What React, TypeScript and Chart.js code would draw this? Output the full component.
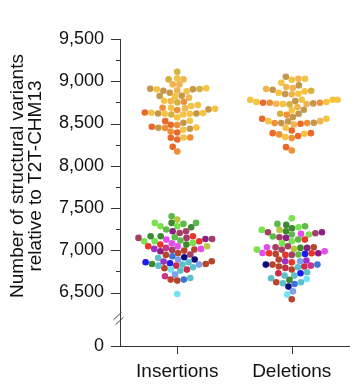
import React, { useEffect, useRef } from "react";
import { Chart, registerables } from "chart.js";

Chart.register(...registerables);

// ---------- data ----------
const categories = ["Insertions", "Deletions"];
const yTitleLines = ["Number of structural variants", "relative to T2T-CHM13"];
const yMajorTicks = [6500, 7000, 7500, 8000, 8500, 9000, 9500];
const yMinorTicks = [6750, 7250, 7750, 8250, 8750, 9250];
const brokenAxisZero = 5867; // axis position at which "0" is shown (broken axis)
const yAxisMax = 9500;

const insertionsHigh = [
  9113, 9022, 9022, 9034, 8963, 8963, 8916, 8908, 8904, 8888, 8880, 8864, 8892, 8904, 8912,
  8829, 8805, 8825, 8821, 8765, 8750, 8758, 8769, 8718, 8686, 8679, 8667, 8706, 8675, 8686,
  8659, 8623, 8615, 8615, 8607, 8607, 8631, 8619, 8619, 8627, 8572, 8532, 8509, 8528, 8481,
  8449, 8438, 8426, 8394, 8453, 8406, 8446, 8461, 8485, 8335, 8331, 8311, 8335, 8224, 8169,
];
const insertionsHighColors = [
  "AD", "AL", "AD", "AG", "AL", "AL", "AG", "AD", "AO", "AO", "AG", "AO", "AL", "AG", "AO",
  "AO", "AL", "AO", "AG", "AL", "AD", "AE", "AG", "AG", "AG", "AL", "AO", "AG", "AG", "AE",
  "AE", "AG", "AG", "AG", "AD", "AG", "AF", "AO", "AO", "AG", "AG", "AG", "AO", "AF", "AE",
  "AO", "AO", "AG", "AF", "AG", "AE", "AE", "AF", "AF", "AG", "AF", "AF", "AE", "AF", "AE",
];
const insertionsLow = [
  7403, 7363, 7324, 7324, 7312, 7324, 7273, 7284, 7284, 7245, 7225, 7205, 7225, 7166, 7146,
  7115, 7067, 7126, 7134, 7107, 7134, 7154, 7166, 7087, 7107, 7107, 7146, 7166, 7047, 7028,
  7008, 7083, 6988, 7004, 7047, 6996, 7016, 7016, 7047, 7067, 6968, 6917, 6909, 6929, 6890,
  6949, 6890, 6945, 6870, 6858, 6846, 6818, 6830, 6830, 6838, 6838, 6818, 6858, 6866, 6771,
  6771, 6799, 6759, 6787, 6712, 6692, 6672, 6653, 6641, 6653, 6482,
];
const insertionsLowColors = [
  "G", "YG", "DG", "G", "G", "LG", "DG", "LG", "LG", "G", "PU", "MV", "MV", "RD", "MV",
  "G", "DG", "MG", "PU", "RD", "MV", "G", "DG", "LG", "LG", "LG", "MV", "DG", "MG", "PK",
  "BR", "MG", "PU", "MV", "RD", "BR", "VI", "MG", "YG", "RD", "BR", "NV", "TL", "MB", "PW",
  "MV", "NV", "BR", "BR", "TL", "BL", "CR", "TL", "PW", "DG", "BR", "TL", "BL", "VI", "LC",
  "CR", "TL", "TL", "BR", "PW", "PK", "TL", "BR", "BR", "MB", "LC",
];
const deletionsHigh = [
  9053, 9030, 9018, 9030, 8951, 8982, 8919, 8931, 8899, 8864, 8852, 8845, 8848, 8880, 8887,
  8908, 8781, 8781, 8754, 8745, 8738, 8730, 8730, 8754, 8694, 8726, 8733, 8745, 8745, 8765,
  8781, 8781, 8662, 8615, 8576, 8603, 8615, 8655, 8556, 8528, 8508, 8505, 8497, 8489, 8525,
  8505, 8505, 8528, 8556, 8418, 8449, 8386, 8371, 8339, 8327, 8351, 8378, 8386, 8220, 8181,
];
const deletionsHighColors = [
  "AO", "AL", "AG", "AG", "AO", "AG", "AL", "AL", "AO", "AG", "AG", "AL", "AO", "AG", "AD",
  "AL", "AG", "AG", "AG", "AE", "AO", "AG", "AL", "AG", "AL", "AD", "AL", "AE", "AF", "AO",
  "AG", "AG", "AO", "AO", "AO", "AE", "AD", "AG", "AF", "AG", "AO", "AO", "AF", "AL", "AO",
  "AE", "AE", "AL", "AG", "AF", "AG", "AF", "AE", "AG", "AE", "AF", "AG", "AF", "AF", "AE",
];
const deletionsLow = [
  7379, 7273, 7284, 7261, 7300, 7312, 7194, 7186, 7213, 7201, 7186, 7241, 7213, 7225, 7241,
  7126, 7126, 7107, 7154, 7146, 7162, 7008, 7036, 7028, 7016, 7008, 7028, 7047, 7083, 7036,
  7036, 6988, 6965, 6957, 6945, 6949, 6945, 6968, 6965, 6957, 6965, 6870, 6830, 6818, 6807,
  6870, 6890, 6858, 6830, 6830, 6878, 6791, 6771, 6799, 6807, 6739, 6728, 6700, 6700, 6728,
  6668, 6660, 6621, 6621, 6649, 6609, 6570, 6601, 6514, 6475, 6420,
];
const deletionsLowColors = [
  "LG", "LG", "G", "DG", "DG", "G", "MG", "G", "MV", "MV", "LG", "YG", "PU", "DG", "LG",
  "G", "RD", "LG", "MV", "PU", "G", "MV", "MV", "DG", "YG", "LG", "PU", "MV", "LG", "BR",
  "MG", "MG", "RD", "BL", "MV", "G", "RD", "MG", "RD", "BR", "PU", "VI", "BR", "PK", "CR",
  "PW", "BR", "RD", "MB", "NV", "VI", "CR", "BR", "TL", "BR", "TL", "BL", "TL", "TL", "CR",
  "TL", "LC", "TL", "BR", "DG", "TL", "NV", "MB", "PW", "LC", "BR",
];

// ---------- styles ----------
const PALETTE: Record<string, string> = {
  AG: "#F5C342", AL: "#F2B450", AO: "#C4984A", AD: "#D6B23C", AE: "#EF9038", AF: "#E9692B",
  DG: "#3E8A2F", G: "#5DB94B", LG: "#78E14E", YG: "#B8C63C", PU: "#8A1F80", MV: "#A53E64",
  RD: "#E8362B", BR: "#B8442B", MG: "#E24DEB", PK: "#CA348B", VI: "#9B31C6", NV: "#0D0D7E",
  BL: "#1C1CF0", MB: "#3C75D5", PW: "#7F9EEC", TL: "#5CC0CC", LC: "#70E3F7", CR: "#CB2D46",
};
const FONT = "'Liberation Sans', Arial, Helvetica, sans-serif";
const AXIS_COLOR = "#333333";
const DOT_R = 3.3;
const SWARM_R = 3.17;
const SWARM_HALF_WIDTH = 0.4;

// seaborn-like beeswarm, computed in pixel space
function swarm(py: number[], r: number, cx: number, halfW: number): number[] {
  const n = py.length;
  const order = py.map((_, i) => i).sort((a, b) => py[b] - py[a]);
  const placed: { x: number; y: number }[] = [];
  const xs: number[] = new Array(n).fill(cx);
  for (let o = 0; o < order.length; o++) {
    const i = order[o];
    const yi = -py[i];
    const neighbors: { x: number; y: number }[] = [];
    for (let k = placed.length - 1; k >= 0; k--) {
      if (yi - placed[k].y < 2 * r) neighbors.push(placed[k]);
      else break;
    }
    const cands: number[] = [cx];
    let leftFirst = true;
    for (const nb of neighbors) {
      const dy = yi - nb.y;
      const dx = Math.sqrt(Math.max(4 * r * r - dy * dy, 0)) * 1.05;
      const cl = nb.x - dx;
      const cr = nb.x + dx;
      if (leftFirst) cands.push(cl, cr);
      else cands.push(cr, cl);
      leftFirst = !leftFirst;
    }
    const sorted = cands
      .map((x, idx) => ({ x, idx }))
      .sort((a, b) => Math.abs(a.x - cx) - Math.abs(b.x - cx) || a.idx - b.idx);
    let chosen = sorted[0].x;
    for (const c of sorted) {
      let ok = true;
      for (const nb of neighbors) {
        const ddx = nb.x - c.x;
        const ddy = nb.y - yi;
        if (ddx * ddx + ddy * ddy < 4 * r * r - 1e-9) {
          ok = false;
          break;
        }
      }
      if (ok) {
        chosen = c.x;
        break;
      }
    }
    placed.push({ x: chosen, y: yi });
    xs[i] = chosen;
  }
  return xs.map((x) => Math.min(cx + halfW, Math.max(cx - halfW, x)));
}

const decorPlugin = {
  id: "decor",
  afterDraw(chart: any) {
    const { ctx, scales } = chart;
    const y = scales.y;
    const x = scales.x;
    const left = chart.chartArea.left;
    const bottom = chart.chartArea.bottom;
    ctx.save();
    ctx.strokeStyle = AXIS_COLOR;
    ctx.lineWidth = 1;
    ctx.beginPath();
    [brokenAxisZero, ...yMajorTicks].forEach((v) => {
      const p = Math.round(y.getPixelForValue(v)) + 0.5;
      ctx.moveTo(left - 9, p);
      ctx.lineTo(left + 0.5, p);
    });
    yMinorTicks.forEach((v) => {
      const p = Math.round(y.getPixelForValue(v)) + 0.5;
      ctx.moveTo(left - 4, p);
      ctx.lineTo(left + 0.5, p);
    });
    categories.forEach((_, i) => {
      const p = Math.round(x.getPixelForValue(i + 1)) + 0.5;
      ctx.moveTo(p, bottom);
      ctx.lineTo(p, bottom + 8);
    });
    ctx.stroke();

    // axis break marks
    const breakY = (y.getPixelForValue(6500) + y.getPixelForValue(brokenAxisZero)) / 2 - 1;
    ctx.beginPath();
    ctx.strokeStyle = "#444";
    ctx.moveTo(left - 6.5, breakY + 1.5);
    ctx.lineTo(left + 1.5, breakY - 6);
    ctx.moveTo(left - 4.5, breakY + 6.5);
    ctx.lineTo(left + 3.5, breakY - 1);
    ctx.stroke();

    // y title
    ctx.fillStyle = "#111";
    ctx.font = `19px ${FONT}`;
    ctx.textAlign = "center";
    ctx.textBaseline = "middle";
    yTitleLines.forEach((line, i) => {
      ctx.save();
      ctx.translate(18 + i * 18, 176);
      ctx.rotate(-Math.PI / 2);
      ctx.fillText(line, 0, 0);
      ctx.restore();
    });
    ctx.restore();
  },
};

export default function App() {
  const ref = useRef<HTMLCanvasElement | null>(null);
  useEffect(() => {
    document.body.style.margin = "0";
    const canvas = ref.current;
    if (!canvas) return;
    const groups = [
      {
        values: [...insertionsHigh, ...insertionsLow],
        colors: [...insertionsHighColors, ...insertionsLowColors],
      },
      {
        values: [...deletionsHigh, ...deletionsLow],
        colors: [...deletionsHighColors, ...deletionsLowColors],
      },
    ];
    const chart = new Chart(canvas, {
      type: "scatter",
      data: {
        datasets: groups.map((g, gi) => ({
          label: categories[gi],
          data: g.values.map((v) => ({ x: gi + 1, y: v })),
          pointBackgroundColor: g.colors.map((c) => PALETTE[c]),
          pointBorderWidth: 0,
          pointRadius: DOT_R,
          pointHoverRadius: DOT_R,
        })),
      },
      options: {
        responsive: false,
        animation: false,
        devicePixelRatio: 1,
        events: [],
        layout: { padding: { top: 39, right: 8, bottom: 0, left: 0 } },
        plugins: { legend: { display: false }, tooltip: { enabled: false } },
        scales: {
          x: {
            type: "linear",
            min: 0.5,
            max: 2.5,
            grid: { display: false, drawTicks: false },
            border: { display: true, color: AXIS_COLOR, width: 1 },
            afterBuildTicks: (s: any) => {
              s.ticks = categories.map((_, i) => ({ value: i + 1 }));
            },
            afterFit: (s: any) => {
              s.height = 42;
            },
            ticks: {
              autoSkip: false,
              maxRotation: 0,
              padding: 14,
              color: "#111",
              font: { size: 19, family: FONT },
              callback: (v: any) => categories[Number(v) - 1] ?? "",
            },
          },
          y: {
            type: "linear",
            min: brokenAxisZero,
            max: yAxisMax,
            grid: { display: false, drawTicks: false },
            border: { display: true, color: AXIS_COLOR, width: 1 },
            afterBuildTicks: (s: any) => {
              s.ticks = [brokenAxisZero, ...yMajorTicks].map((v) => ({ value: v }));
            },
            afterFit: (s: any) => {
              s.width = 120;
            },
            ticks: {
              autoSkip: false,
              padding: 16,
              color: "#111",
              font: { size: 18, family: FONT },
              callback: (v: any) =>
                Number(v) === brokenAxisZero ? "0" : Number(v).toLocaleString("en-US"),
            },
          },
        },
      },
      plugins: [decorPlugin],
    });

    const xs = chart.scales.x;
    const ys = chart.scales.y;
    groups.forEach((g, gi) => {
      const cx = xs.getPixelForValue(gi + 1);
      const halfW = xs.getPixelForValue(gi + 1 + SWARM_HALF_WIDTH) - cx;
      const py = g.values.map((v) => ys.getPixelForValue(v));
      const px = swarm(py, SWARM_R, cx, halfW);
      chart.data.datasets[gi].data = g.values.map((v, i) => ({
        x: xs.getValueForPixel(px[i]),
        y: v,
      })) as any;
    });
    chart.update("none");
    return () => chart.destroy();
  }, []);
  return (
    <div style={{ width: 357, height: 388 }}>
      <canvas ref={ref} width={357} height={388} style={{ display: "block" }} />
    </div>
  );
}
